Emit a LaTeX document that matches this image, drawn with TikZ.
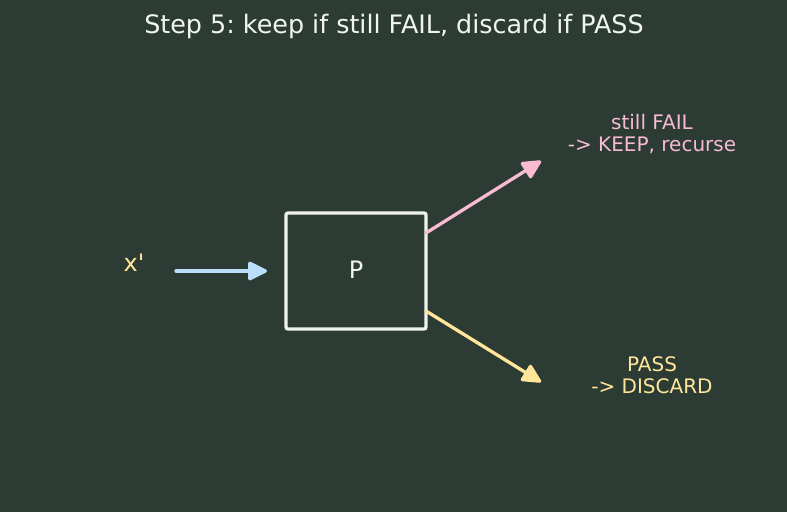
\documentclass[tikz,border=0pt]{standalone}
\usepackage{fontspec}
\setmainfont{DejaVu Sans}
\newfontfamily\plainf{DejaVu Sans}
\usetikzlibrary{arrows.meta}
\definecolor{bg}{HTML}{2C3B34}
\definecolor{boxc}{HTML}{EEF2EA}
\definecolor{titlec}{HTML}{F2F5EE}
\definecolor{bluec}{HTML}{BBDEFB}
\definecolor{pinkc}{HTML}{F8BBD0}
\definecolor{yelc}{HTML}{FFE699}
\tikzset{
  arr/.style={line width=3.3pt, line cap=round, -{Triangle[length=21pt,width=20pt,round]}},
  lbl/.style={align=center, font=\plainf\fontsize{20}{22}\selectfont, inner sep=0pt}
}
\begin{document}
\frenchspacing
\begin{tikzpicture}[x=1pt,y=-1pt]
\fill[bg] (0,0) rectangle (787,512);
\useasboundingbox (0,0) rectangle (787,512);
\node[text=titlec, font=\plainf\fontsize{25.4}{28}\selectfont, inner sep=0pt] (title) at (394,26) {Step 5: keep if still FAIL, discard if PASS};
\node[draw=boxc, line width=3.3pt, rounded corners=2pt, minimum width=140pt, minimum height=116pt, inner sep=0pt] (P) at (356,271) {};
\node[text=titlec, font=\plainf\fontsize{24}{26}\selectfont, inner sep=0pt] (Plbl) at (356,270) {P};
\node[text=yelc, font=\plainf\fontsize{24}{26}\selectfont, inner sep=0pt] (x) at (134,263) {x'};
\node[lbl, text=pinkc] (fail) at (652,134) {still FAIL\\-> KEEP, recurse};
\node[lbl, text=yelc] (pass) at (652,375) {PASS\\-> DISCARD};
\coordinate (xs) at (176,271);
\coordinate (xe) at (267,271);
\coordinate (fs) at (426,233);
\coordinate (fe) at (541,161);
\coordinate (ps) at (426,311);
\coordinate (pe) at (541,382);
\draw[arr, bluec] (xs) -- (xe);
\draw[arr, pinkc] (fs) -- (fe);
\draw[arr, yelc] (ps) -- (pe);
\end{tikzpicture}
\end{document}
